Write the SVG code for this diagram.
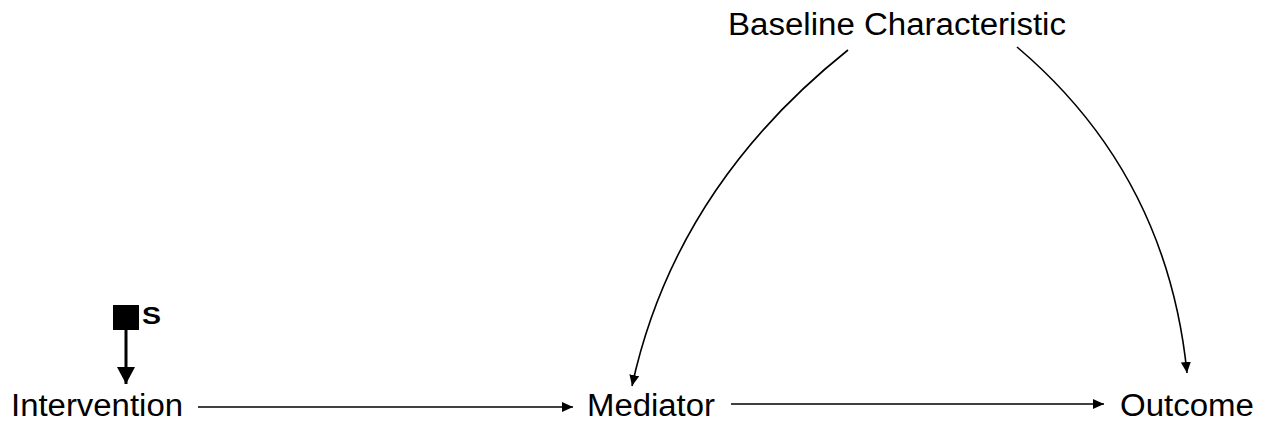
<svg xmlns="http://www.w3.org/2000/svg" width="1277" height="426" viewBox="0 0 1277 426">
<style>
.lbl{font-family:"Liberation Sans",Arial,sans-serif;font-size:31px;fill:#000}
.s{font-family:"Liberation Sans",Arial,sans-serif;font-size:24px;font-weight:bold;fill:#000}
.edge{fill:none;stroke:#000;stroke-width:1.6}
</style>
<defs>
<marker id="ah" markerUnits="userSpaceOnUse" markerWidth="12" markerHeight="10" refX="11" refY="5" orient="auto" viewBox="0 0 12 10">
<path d="M0,0 L11,5 L0,10 Z" fill="#000"/>
</marker>
<marker id="ahBig" markerUnits="userSpaceOnUse" markerWidth="18" markerHeight="18" refX="17" refY="9" orient="auto" viewBox="0 0 18 18">
<path d="M0,0 L17,9 L0,18 Z" fill="#000"/>
</marker>
</defs>
<g id="connectors">
<line class="edge" x1="198" y1="407" x2="573" y2="407" marker-end="url(#ah)"/>
<line class="edge" x1="731" y1="404" x2="1104" y2="404" marker-end="url(#ah)"/>
<path class="edge" d="M848,50 Q675,188 632,386" marker-end="url(#ah)"/>
<path class="edge" d="M1017,47 Q1167,174 1187,373" marker-end="url(#ah)"/>
<line x1="126" y1="330" x2="126" y2="384" stroke="#000" stroke-width="3" marker-end="url(#ahBig)"/>
</g>
<g id="node-s">
<rect x="113" y="305" width="26" height="25" fill="#000"/>
<text class="s" x="142" y="324" textLength="19" lengthAdjust="spacingAndGlyphs">S</text>
</g>
<g id="node-intervention">
<text class="lbl" x="11" y="416" textLength="172" lengthAdjust="spacingAndGlyphs">Intervention</text>
</g>
<g id="node-mediator">
<text class="lbl" x="587" y="416" textLength="128" lengthAdjust="spacingAndGlyphs">Mediator</text>
</g>
<g id="node-outcome">
<text class="lbl" x="1120" y="416" textLength="134" lengthAdjust="spacingAndGlyphs">Outcome</text>
</g>
<g id="node-baseline">
<text class="lbl" x="728" y="35" textLength="338" lengthAdjust="spacingAndGlyphs">Baseline Characteristic</text>
</g>
</svg>
